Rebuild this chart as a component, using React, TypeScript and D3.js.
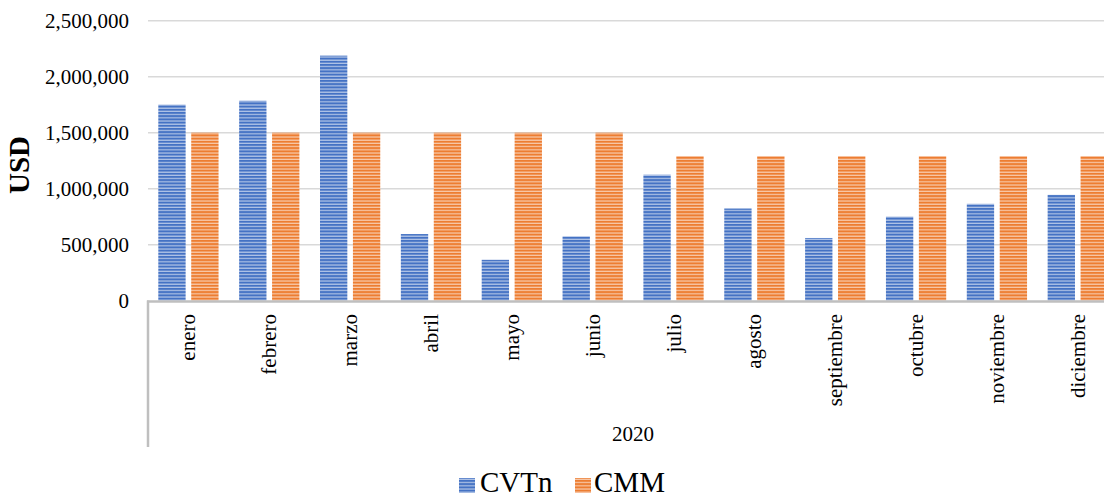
import React from "react";
import * as d3 from "d3";

const months = ["enero","febrero","marzo","abril","mayo","junio","julio","agosto","septiembre","octubre","noviembre","diciembre"];
const seriesNames = ["CVTn","CMM"];
const cvtn = [1750000,1785000,2188000,595000,365000,575000,1125000,823000,560000,750000,865000,945000];
const cmm = [1500000,1500000,1500000,1500000,1500000,1500000,1292000,1292000,1292000,1292000,1292000,1292000];
const yTicks = [0,500000,1000000,1500000,2000000,2500000];
const yearLabel = "2020";
const yTitle = "USD";

const W = 1104, H = 496;
const left = 148, right = 148 + 12 * 80.85;
const top = 20.7, bottom = 300.7;
const FONT = "'Liberation Serif', 'Times New Roman', serif";

const colors: Record<string, [string, string]> = {
  CVTn: ["#4472C4", "#B4C6E7"],
  CMM: ["#ED7D31", "#F8CBAD"],
};

export default function App() {
  const x0 = d3.scaleBand<string>().domain(months).range([left, right]).paddingInner(0).paddingOuter(0);
  const x1 = d3.scaleBand<string>().domain(seriesNames).range([10.3, x0.bandwidth() - 10.3]).paddingInner(0.17).paddingOuter(0);
  const y = d3.scaleLinear().domain([0, 2500000]).range([bottom, top]);
  const fmt = d3.format(",");
  const data: Record<string, number[]> = { CVTn: cvtn, CMM: cmm };

  return (
    <svg width={W} height={H} style={{ position: "absolute", left: 0, top: 0, background: "#fff" }} fontFamily={FONT}>
      <defs>
        {seriesNames.map((s) => (
          <pattern key={s} id={`pat-${s}`} patternUnits="userSpaceOnUse" width={8} height={3.2}>
            <rect x={0} y={0} width={8} height={3.2} fill={colors[s][1]} />
            <rect x={0} y={0} width={8} height={2} fill={colors[s][0]} />
          </pattern>
        ))}
      </defs>
      {yTicks.filter((t) => t > 0).map((t) => (
        <line key={t} x1={left} x2={W + 20} y1={y(t)} y2={y(t)} stroke="#d9d9d9" strokeWidth={1.5} />
      ))}
      {yTicks.map((t) => (
        <text key={t} x={129} y={y(t) + 7} textAnchor="end" fontSize={21} fill="#000">{fmt(t)}</text>
      ))}
      <text transform={`translate(29,165) rotate(-90)`} textAnchor="middle" fontSize={29} fontWeight="bold" fill="#000">{yTitle}</text>
      {months.map((m, i) => (
        <g key={m} transform={`translate(${x0(m)},0)`}>
          {seriesNames.map((s) => (
            <rect key={s} x={x1(s)} y={y(data[s][i])} width={x1.bandwidth()} height={y(0) - y(data[s][i])} fill={`url(#pat-${s})`} />
          ))}
        </g>
      ))}
      <line x1={left - 1} x2={W + 20} y1={301.5} y2={301.5} stroke="#bfbfbf" strokeWidth={2.5} />
      <line x1={left} x2={left} y1={300.5} y2={447} stroke="#bfbfbf" strokeWidth={2.5} />
      {months.map((m) => {
        const cx = (x0(m) as number) + x0.bandwidth() / 2 + 7;
        return (
          <text key={m} transform={`translate(${cx},314) rotate(-90)`} textAnchor="end" fontSize={21} fill="#000">{m}</text>
        );
      })}
      <text x={(left + right) / 2} y={441} textAnchor="middle" fontSize={21} fill="#000">{yearLabel}</text>
      <rect x={459} y={478} width={16} height={15} fill="url(#pat-CVTn)" />
      <text x={480} y={492} fontSize={29} fill="#000">{seriesNames[0]}</text>
      <rect x={575} y={478} width={16} height={15} fill="url(#pat-CMM)" />
      <text x={594} y={492} fontSize={29} fill="#000">{seriesNames[1]}</text>
    </svg>
  );
}
